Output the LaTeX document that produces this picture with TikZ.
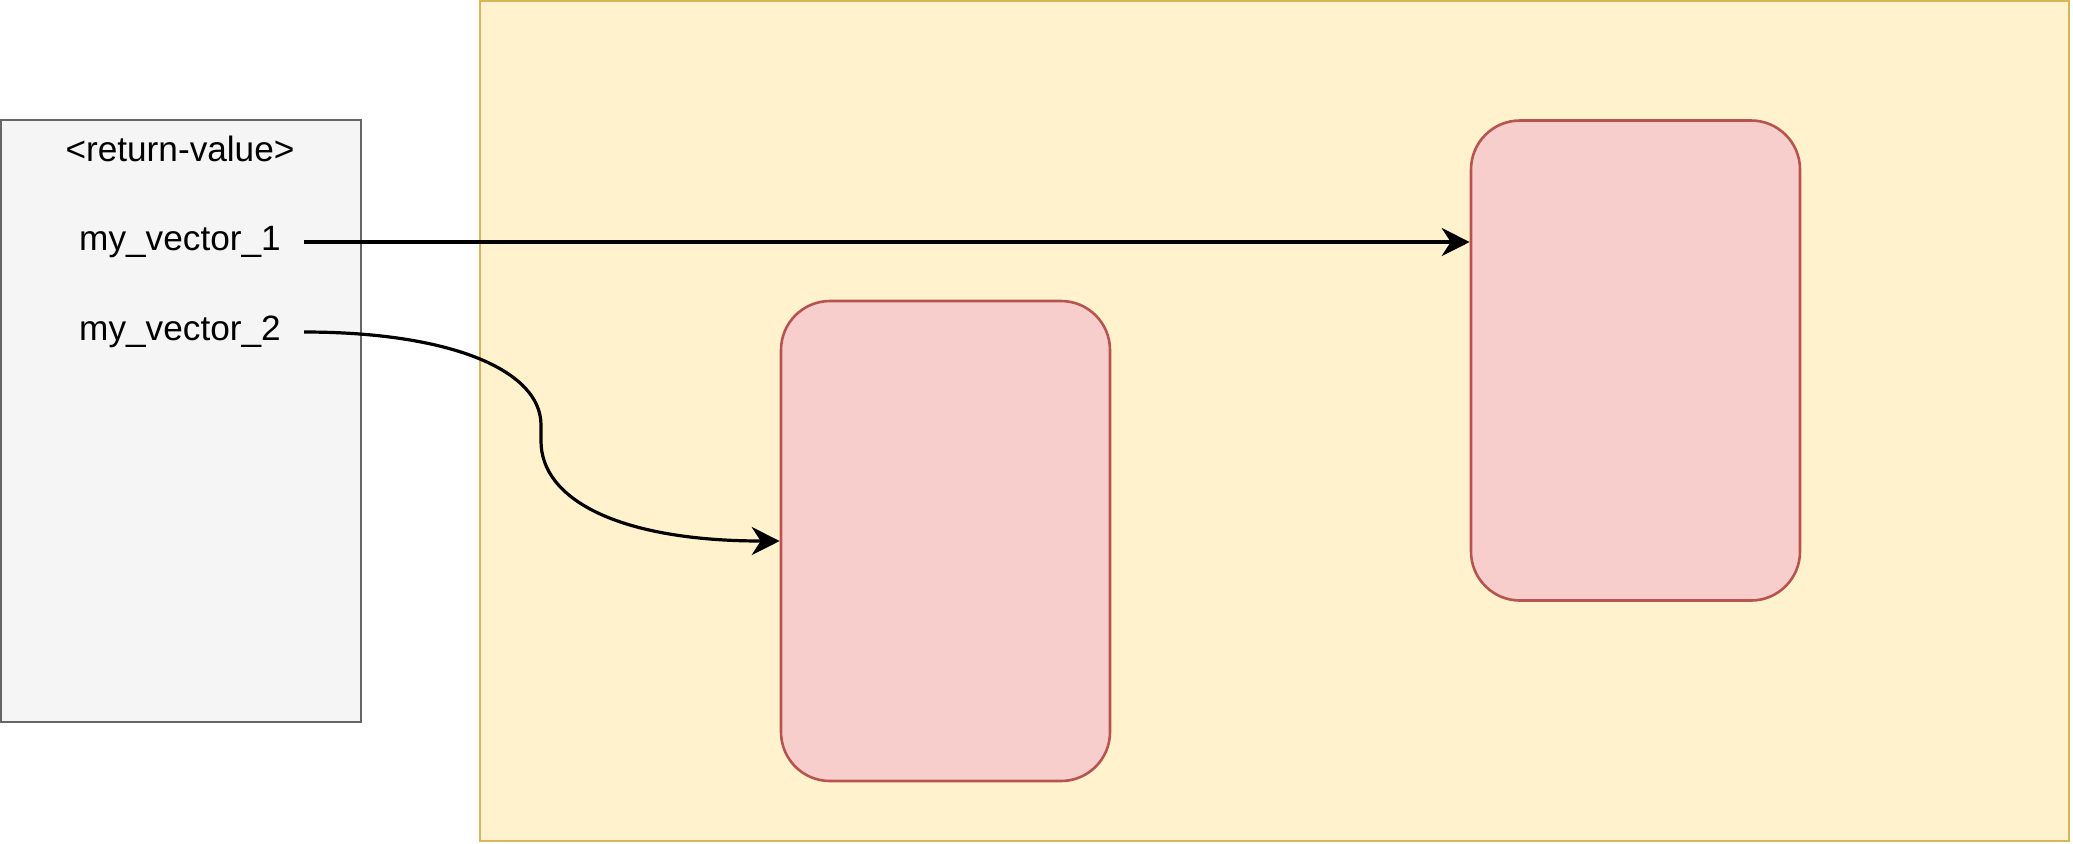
\documentclass[tikz,border=0pt]{standalone}
\usepackage{fontspec}
\setmainfont{Liberation Sans}
\usetikzlibrary{arrows.meta}
\definecolor{retfill}{HTML}{F5F5F5}
\definecolor{retdraw}{HTML}{666666}
\definecolor{heapfill}{HTML}{FFF2CC}
\definecolor{heapdraw}{HTML}{D6B656}
\definecolor{vecfill}{HTML}{F8CECC}
\definecolor{vecdraw}{HTML}{B85450}
\begin{document}
\begin{tikzpicture}[x=0.5pt,y=-0.5pt,line width=1.3pt,
        ret node/.style={rectangle,draw=retdraw,fill=retfill,minimum width=180pt,minimum height=301pt},
        heap node/.style={rectangle,draw=heapdraw,fill=heapfill,minimum width=794.5pt,minimum height=420pt},
        vec node/.style={rectangle,rounded corners=24.5pt,draw=vecdraw,fill=vecfill,minimum width=164.5pt,minimum height=240pt},
        text node/.style={font=\fontsize{17.6}{21}\selectfont,inner sep=0pt,inner xsep=11pt},
        ptr/.style={line width=1.6pt,-{Stealth[length=14pt,width=14pt,inset=4.5pt]}}]
    \useasboundingbox (0,0) rectangle (2073,843);
    \node[ret node] at (181,421) (ret) {};
    \node[heap node] at (1274.5,421) (heap) {};
    \node[vec node] at (945.5,541) (vecb) {};
    \node[vec node] at (1635.5,360.5) (veca) {};

    \node[text node] at (180,149) (retval) {<return-value>};
    \node[text node] at (180,242) (v1) {my\_vector\_1};
    \node[text node] at (180,332) (v2) {my\_vector\_2};

    \coordinate (bendtop) at (541,425);
    \coordinate (bendbot) at (541,441);

    \draw[ptr] (v1.east) -- (v1.east -| veca.west);
    \draw[ptr] (v2.east) .. controls (450,332) and (541,370) .. (bendtop)
        -- (bendbot) .. controls (541,500) and (620,541) .. (vecb.west);
\end{tikzpicture}
\end{document}
